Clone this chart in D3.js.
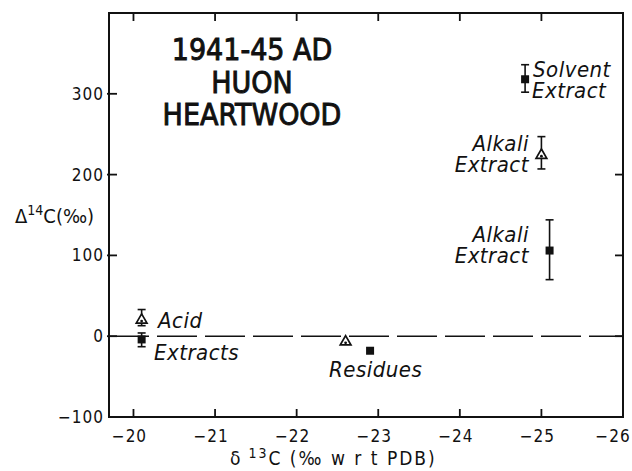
<!DOCTYPE html>
<html>
<head>
<meta charset="utf-8">
<script src="https://cdn.jsdelivr.net/npm/d3@7"></script>
<style>
  body { margin: 0; background: #fff; }
  svg { display: block; }
  text { font-family: "Liberation Sans Narrow", "DejaVu Sans Condensed", sans-serif; fill: #111; }
</style>
</head>
<body>
<div id="chart"></div>
<script>
var width = 632,
    height = 471

// data
var xTicks = [-20, -21, -22, -23, -24, -25, -26]
var yTicks = [-100, 0, 100, 200, 300]
var triNames = ["Acid", "Residues", "Alkali"]
var triD13 = [-20.1, -22.6, -25.0]
var triD14 = [20, -7, 224]
var triHi = [33, null, 247]
var triLo = [13, null, 207]
var sqNames = ["Acid", "Residues", "Alkali", "Solvent"]
var sqD13 = [-20.1, -22.9, -25.1, -24.8]
var sqD14 = [-4, -18, 106, 318]
var sqHi = [4, null, 144, 336]
var sqLo = [-13, null, 70, 302]
var titleLines = ["1941-45 AD", "HUON", "HEARTWOOD"]

var pLeft = 109, pRight = 623, pTop = 13, pBottom = 417

var x = d3.scaleLinear().domain([-19.7, -26]).range([pLeft, pRight])
var y = d3.scaleLinear().domain([-100, 400]).range([pBottom, pTop])

var svg = d3.select("#chart")
  .append("svg")
    .attr("width", width)
    .attr("height", height)

// frame
svg.append("rect")
  .attr("x", pLeft).attr("y", pTop)
  .attr("width", pRight - pLeft).attr("height", pBottom - pTop)
  .attr("fill", "none").attr("stroke", "#111").attr("stroke-width", 2)

// zero line, dashed
svg.append("line")
  .attr("x1", pLeft).attr("x2", pRight)
  .attr("y1", y(0)).attr("y2", y(0))
  .attr("stroke", "#111").attr("stroke-width", 1.6)
  .attr("stroke-dasharray", "40,8")

// ticks, all pointing in
var tk = 8
svg.selectAll(".xtb").data(xTicks.slice(0, 6)).enter().append("line")
  .attr("x1", function(d) { return x(d) }).attr("x2", function(d) { return x(d) })
  .attr("y1", pBottom).attr("y2", pBottom - tk)
  .attr("stroke", "#111").attr("stroke-width", 1.8)
svg.selectAll(".xtt").data(xTicks.slice(0, 6)).enter().append("line")
  .attr("x1", function(d) { return x(d) }).attr("x2", function(d) { return x(d) })
  .attr("y1", pTop).attr("y2", pTop + tk)
  .attr("stroke", "#111").attr("stroke-width", 1.8)
svg.selectAll(".ytl").data(yTicks.slice(1)).enter().append("line")
  .attr("x1", pLeft - 2).attr("x2", pLeft + tk)
  .attr("y1", function(d) { return y(d) }).attr("y2", function(d) { return y(d) })
  .attr("stroke", "#111").attr("stroke-width", 1.8)
svg.selectAll(".ytr").data(yTicks.slice(1, 4)).enter().append("line")
  .attr("x1", pRight).attr("x2", pRight - tk)
  .attr("y1", function(d) { return y(d) }).attr("y2", function(d) { return y(d) })
  .attr("stroke", "#111").attr("stroke-width", 1.8)

// tick labels
svg.selectAll(".xl").data(xTicks).enter().append("text")
  .attr("x", function(d) { return Math.min(x(d) - 4, 613) })
  .attr("y", 442)
  .attr("text-anchor", "middle")
  .style("font-size", "17px")
  .style("letter-spacing", "1px")
  .text(function(d) { return d < 0 ? "\u2212" + Math.abs(d) : d })

svg.selectAll(".yl").data(yTicks).enter().append("text")
  .attr("x", pLeft - 5)
  .attr("y", function(d) { return y(d) + 6 })
  .attr("text-anchor", "end")
  .style("font-size", "17px")
  .style("letter-spacing", "1px")
  .text(function(d) { return d < 0 ? "\u2212" + Math.abs(d) : d })

// axis titles
var yt = svg.append("text").attr("x", 15).attr("y", 223).style("font-size", "20px")
yt.append("tspan").text("\u0394")
yt.append("tspan").attr("dy", -8).style("font-size", "14px").text("14")
yt.append("tspan").attr("dy", 8).text("C(\u2030)")

var xt = svg.append("text").attr("x", 230).attr("y", 465).style("font-size", "19px")
  .style("letter-spacing", "2px")
xt.append("tspan").text("\u03b4")
xt.append("tspan").attr("dy", -7).style("font-size", "14px").text(" 13")
xt.append("tspan").attr("dy", 7).text("C  (\u2030 w r t  PDB)")

// title
svg.selectAll(".title").data(titleLines).enter().append("text")
  .attr("x", 252)
  .attr("y", function(d, i) { return 60 + i * 32.5 })
  .attr("text-anchor", "middle")
  .style("font-size", "30px")
  .attr("stroke", "#111").attr("stroke-width", 0.9)
  .text(function(d) { return d })

// error bars
function errBars(cls, xs, his, los) {
  var idx = d3.range(xs.length).filter(function(i) { return his[i] !== null })
  var g = svg.selectAll("." + cls).data(idx).enter().append("g")
  g.append("line")
    .attr("x1", function(i) { return x(xs[i]) }).attr("x2", function(i) { return x(xs[i]) })
    .attr("y1", function(i) { return y(his[i]) }).attr("y2", function(i) { return y(los[i]) })
    .attr("stroke", "#111").attr("stroke-width", 1.6)
  ;[his, los].forEach(function(arr) {
    g.append("line")
      .attr("x1", function(i) { return x(xs[i]) - 4 }).attr("x2", function(i) { return x(xs[i]) + 4 })
      .attr("y1", function(i) { return y(arr[i]) }).attr("y2", function(i) { return y(arr[i]) })
      .attr("stroke", "#111").attr("stroke-width", 1.6)
  })
}
errBars("etri", triD13, triHi, triLo)
errBars("esq", sqD13, sqHi, sqLo)

// open triangles with a dot
var tri = d3.symbol().type(d3.symbolTriangle).size(50)
svg.selectAll(".tri").data(triD13).enter().append("path")
  .attr("d", tri)
  .attr("transform", function(d, i) { return "translate(" + x(d) + "," + y(triD14[i]) + ")" })
  .attr("fill", "#fff").attr("stroke", "#111").attr("stroke-width", 1.7)
svg.selectAll(".tridot").data(triD13).enter().append("circle")
  .attr("cx", function(d) { return x(d) })
  .attr("cy", function(d, i) { return y(triD14[i]) + 1 })
  .attr("r", 1.4).attr("fill", "#111")

// filled squares
svg.selectAll(".sq").data(sqD13).enter().append("rect")
  .attr("x", function(d) { return x(d) - 4 })
  .attr("y", function(d, i) { return y(sqD14[i]) - 4 })
  .attr("width", 8).attr("height", 8)
  .attr("fill", "#111")

// point labels
var labels = [
  { t: "Solvent", x: 533, y: 77, a: "start" },
  { t: "Extract", x: 532, y: 98, a: "start" },
  { t: "Alkali", x: 529, y: 151, a: "end" },
  { t: "Extract", x: 529, y: 172, a: "end" },
  { t: "Alkali", x: 529, y: 242, a: "end" },
  { t: "Extract", x: 529, y: 263, a: "end" },
  { t: "Acid", x: 158, y: 328, a: "start" },
  { t: "Extracts", x: 154, y: 360, a: "start" },
  { t: "Residues", x: 329, y: 377, a: "start" }
]
svg.selectAll(".pl").data(labels).enter().append("text")
  .attr("x", function(d) { return d.x })
  .attr("y", function(d) { return d.y })
  .attr("text-anchor", function(d) { return d.a })
  .style("font-size", "22px")
  .style("font-style", "italic")
  .style("letter-spacing", "0.5px")
  .text(function(d) { return d.t })
</script>
</body>
</html>
